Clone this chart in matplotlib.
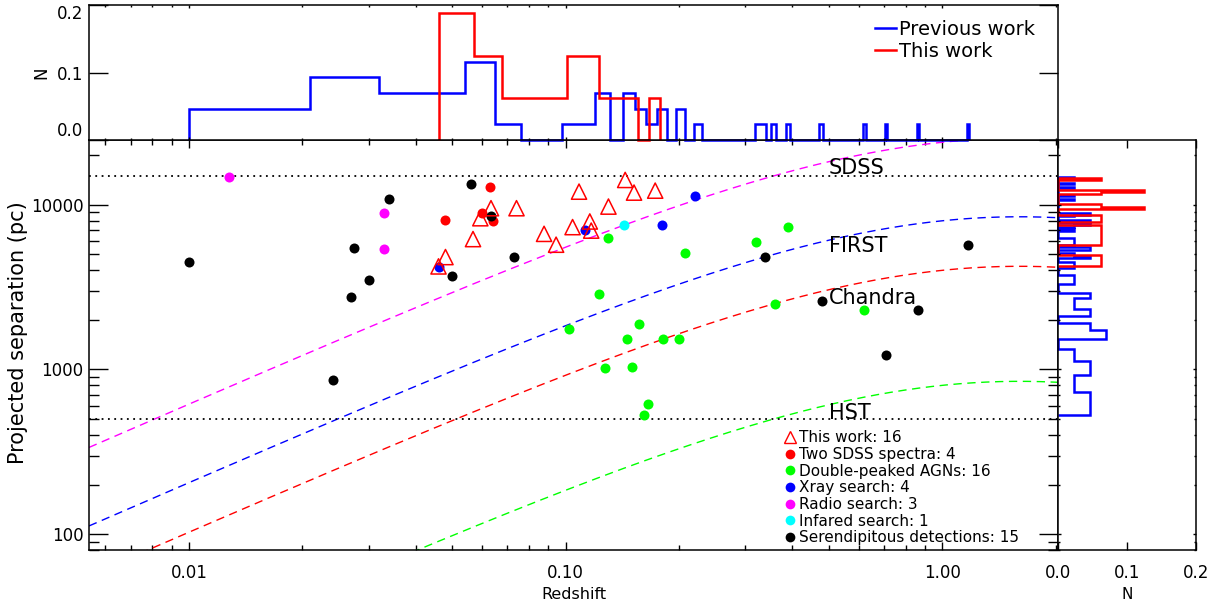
import numpy as np
import matplotlib
matplotlib.use("Agg")
import matplotlib.pyplot as plt
from matplotlib.lines import Line2D
from matplotlib.ticker import FixedLocator, FixedFormatter, LogLocator, NullFormatter

plt.rcParams['font.family'] = ['DejaVu Sans']

# ---------------- data (redshift, projected separation in pc) ----------------
this_z = [0.046, 0.048, 0.0568, 0.0594, 0.0634, 0.0741, 0.0877, 0.0944,
          0.1044, 0.1086, 0.116, 0.117, 0.130, 0.144, 0.152, 0.173]
this_sep = [4230, 4820, 6200, 8300, 9550, 9550, 6670, 5730,
            7330, 12040, 7930, 6980, 9770, 14180, 11880, 12210]

sdss_z = [0.048, 0.060, 0.063, 0.064]
sdss_sep = [8110, 8900, 12900, 8000]

dpagn_z = [0.102, 0.123, 0.127, 0.130, 0.146, 0.150, 0.157, 0.1615,
           0.166, 0.182, 0.1995, 0.207, 0.320, 0.360, 0.390, 0.620]
dpagn_sep = [1760, 2880, 1020, 6280, 1535, 1040, 1900, 526,
             620, 1535, 1540, 5090, 5990, 2500, 7390, 2310]

xray_z = [0.046, 0.1128, 0.180, 0.221]
xray_sep = [4170, 7050, 7570, 11390]

radio_z = [0.0128, 0.033, 0.033]
radio_sep = [14700, 8900, 5410]

ir_z = [0.143]
ir_sep = [7570]

seren_z = [0.0100, 0.0241, 0.0270, 0.0274, 0.030, 0.034, 0.050, 0.056,
           0.0634, 0.0731, 0.338, 0.479, 0.708, 0.862, 1.17]
seren_sep = [4520, 869, 2770, 5510, 3480, 10870, 3700, 13340,
             8580, 4800, 4840, 2620, 1220, 2310, 5730]

# histogram bin widths
z_binsize = 0.011
sep_binsize_prev = 200.0
sep_binsize_this = 368.0

# instrument angular resolutions (arcsec) for the dashed curves
inst_names = ['SDSS', 'FIRST', 'Chandra', 'HST']
inst_theta = [3.0, 1.0, 0.5, 0.1]
inst_colors = ['magenta', 'blue', 'red', 'lime']
label_sep = [15500, 5200, 2500, 500]
label_z = 0.5
sdss_limit = 15000
hst_limit = 500

# cosmology
H0, Om = 70.0, 0.3

# ---------------- derived ----------------
prev_z = np.array(sdss_z + dpagn_z + xray_z + radio_z + ir_z + seren_z)
prev_sep = np.array(sdss_sep + dpagn_sep + xray_sep + radio_sep + ir_sep + seren_sep)
tz = np.array(this_z)
tsep = np.array(this_sep)


def make_hist(v, w):
    vmin = v.min()
    nb = int(np.floor((v.max() - vmin) / w)) + 1
    edges = vmin + w * np.arange(nb + 1)
    cnt, _ = np.histogram(v, bins=edges)
    return cnt / len(v), edges


pz_h, pz_e = make_hist(prev_z, z_binsize)
tz_h, tz_e = make_hist(tz, z_binsize)
ps_h, ps_e = make_hist(prev_sep, sep_binsize_prev)
ts_h, ts_e = make_hist(tsep, sep_binsize_this)

# angular diameter distance
c_kms = 299792.458
zz = np.linspace(0, 2.2, 5000)
Ez = np.sqrt(Om * (1 + zz) ** 3 + (1 - Om))
dc = np.concatenate([[0], np.cumsum(0.5 * (1 / Ez[1:] + 1 / Ez[:-1]) * np.diff(zz))]) * c_kms / H0
XMIN, XMAX = 0.00543, 2.03
YMIN, YMAX = 80, 24800
zgrid = np.logspace(np.log10(XMIN), np.log10(XMAX), 500)
DA_pc = np.interp(zgrid, zz, dc) / (1 + zgrid) * 1e6

# ---------------- figure ----------------
W, H = 1226, 611
fig = plt.figure(figsize=(W / 100, H / 100), dpi=100)
L, R = 89 / W, 1058 / W
B, T = 1 - 550 / H, 1 - 140 / H
TT = 1 - 5 / H
RR = 1196 / W
ax = fig.add_axes([L, B, R - L, T - B])
axt = fig.add_axes([L, T, R - L, TT - T])
axr = fig.add_axes([R, B, RR - R, T - B])

for a in (ax, axt, axr):
    for s in a.spines.values():
        s.set_linewidth(1.1)

dash = (0, (6, 4))
for th, col in zip(inst_theta, inst_colors):
    ax.plot(zgrid, th / 206264.806 * DA_pc, color=col, lw=1.0, ls=dash, zorder=2)
ax.axhline(sdss_limit, color='black', lw=1.3, ls=(0, (1, 2.5)), zorder=2)
ax.axhline(hst_limit, color='black', lw=1.3, ls=(0, (1, 2.5)), zorder=2)
for name, s in zip(inst_names, label_sep):
    ax.text(label_z, s, name, fontsize=15, va='baseline', ha='left', zorder=3)

ms = 52
ax.scatter(sdss_z, sdss_sep, s=ms, color='red', zorder=4, linewidths=0)
ax.scatter(dpagn_z, dpagn_sep, s=ms, color='lime', zorder=4, linewidths=0)
ax.scatter(xray_z, xray_sep, s=ms, color='blue', zorder=5, linewidths=0)
ax.scatter(radio_z, radio_sep, s=ms, color='magenta', zorder=4, linewidths=0)
ax.scatter(ir_z, ir_sep, s=ms, color='cyan', zorder=4, linewidths=0)
ax.scatter(seren_z, seren_sep, s=ms, color='black', zorder=4, linewidths=0)
ax.scatter(this_z, this_sep, s=120, marker='^', facecolors='none',
           edgecolors='red', linewidths=1.1, zorder=6)

ax.set_xscale('log')
ax.set_yscale('log')
ax.set_xlim(XMIN, XMAX)
ax.set_ylim(YMIN, YMAX)
ax.xaxis.set_major_locator(FixedLocator([0.01, 0.1, 1.0]))
ax.xaxis.set_major_formatter(FixedFormatter(['0.01', '0.10', '1.00']))
ax.xaxis.set_minor_locator(LogLocator(base=10, subs=np.arange(2, 10)))
ax.xaxis.set_minor_formatter(NullFormatter())
ax.yaxis.set_major_locator(FixedLocator([100, 1000, 10000]))
ax.yaxis.set_major_formatter(FixedFormatter(['100', '1000', '10000']))
ax.yaxis.set_minor_locator(LogLocator(base=10, subs=np.arange(2, 10)))
ax.yaxis.set_minor_formatter(NullFormatter())
ax.tick_params(which='both', direction='in', top=True, right=True, labelsize=12, width=1)
ax.tick_params(axis='x', which='major', length=6, pad=10)
ax.tick_params(axis='x', which='minor', length=3.5)
ax.tick_params(axis='y', which='major', length=14, pad=4)
ax.tick_params(axis='y', which='minor', length=7)
ax.set_xlabel('Redshift', fontsize=11.5, labelpad=4)
ax.set_ylabel('Projected separation (pc)', fontsize=15)
ax.yaxis.set_label_coords(-0.063, 0.53)

handles = [
    Line2D([], [], ls='none', marker='^', ms=8, mfc='none', mec='red', mew=1.0),
    Line2D([], [], ls='none', marker='o', ms=7, mfc='red', mec='none'),
    Line2D([], [], ls='none', marker='o', ms=7, mfc='lime', mec='none'),
    Line2D([], [], ls='none', marker='o', ms=7, mfc='blue', mec='none'),
    Line2D([], [], ls='none', marker='o', ms=7, mfc='magenta', mec='none'),
    Line2D([], [], ls='none', marker='o', ms=7, mfc='cyan', mec='none'),
    Line2D([], [], ls='none', marker='o', ms=7, mfc='black', mec='none'),
]
labels = ['This work: %d' % len(this_z),
          'Two SDSS spectra: %d' % len(sdss_z),
          'Double-peaked AGNs: %d' % len(dpagn_z),
          'Xray search: %d' % len(xray_z),
          'Radio search: %d' % len(radio_z),
          'Infared search: %d' % len(ir_z),
          'Serendipitous detections: %d' % len(seren_z)]
ax.legend(handles, labels, loc='upper left', bbox_to_anchor=(0.717, 0.292),
          frameon=False, fontsize=11, borderpad=0, borderaxespad=0,
          labelspacing=0.11, handlelength=0.8, handletextpad=0.22)

# ---------------- top histogram ----------------
axt.stairs(pz_h, pz_e, baseline=0, color='blue', lw=1.8, clip_on=False)
axt.stairs(tz_h, tz_e, baseline=0, color='red', lw=1.8, clip_on=False)
axt.set_xscale('log')
axt.set_xlim(XMIN, XMAX)
axt.set_ylim(0, 0.2)
axt.xaxis.set_major_locator(FixedLocator([0.01, 0.1, 1.0]))
axt.xaxis.set_minor_locator(LogLocator(base=10, subs=np.arange(2, 10)))
axt.xaxis.set_major_formatter(NullFormatter())
axt.xaxis.set_minor_formatter(NullFormatter())
axt.yaxis.set_major_locator(FixedLocator([0.0, 0.1, 0.2]))
axt.yaxis.set_major_formatter(FixedFormatter(['0.0', '0.1', '0.2']))
axt.tick_params(which='both', direction='in', top=True, right=True, labelsize=12, width=1)
axt.tick_params(axis='x', which='major', length=2.5)
axt.tick_params(axis='x', which='minor', length=1.5)
axt.tick_params(axis='y', which='major', length=14, pad=4)
axt.set_ylabel('N', fontsize=12, labelpad=5)
tl = axt.get_yticklabels()
tl[0].set_va('bottom')
tl[-1].set_va('top')
lh = [Line2D([], [], color='blue', lw=1.8), Line2D([], [], color='red', lw=1.8)]
axt.legend(lh, ['Previous work', 'This work'], loc='upper left',
           bbox_to_anchor=(0.811, 0.89), frameon=False, fontsize=14,
           borderpad=0, borderaxespad=0, labelspacing=0.15,
           handlelength=1.1, handletextpad=0.15)

# ---------------- right histogram ----------------
axr.stairs(ps_h, ps_e, baseline=0, orientation='horizontal', color='blue', lw=1.8, clip_on=False)
axr.stairs(ts_h, ts_e, baseline=0, orientation='horizontal', color='red', lw=1.8, clip_on=False)
axr.set_yscale('log')
axr.set_ylim(YMIN, YMAX)
axr.set_xlim(0, 0.2)
axr.yaxis.set_major_locator(FixedLocator([100, 1000, 10000]))
axr.yaxis.set_minor_locator(LogLocator(base=10, subs=np.arange(2, 10)))
axr.yaxis.set_major_formatter(NullFormatter())
axr.yaxis.set_minor_formatter(NullFormatter())
axr.xaxis.set_major_locator(FixedLocator([0.0, 0.1, 0.2]))
axr.xaxis.set_major_formatter(FixedFormatter(['0.0', '0.1', '0.2']))
axr.tick_params(which='both', direction='in', top=True, right=True, labelsize=12, width=1)
axr.tick_params(axis='x', which='major', length=6, pad=10)
axr.tick_params(axis='y', which='major', length=2.5)
axr.tick_params(axis='y', which='minor', length=1.5)
axr.set_xlabel('N', fontsize=11, labelpad=4)

fig.savefig('out.png', dpi=100)
